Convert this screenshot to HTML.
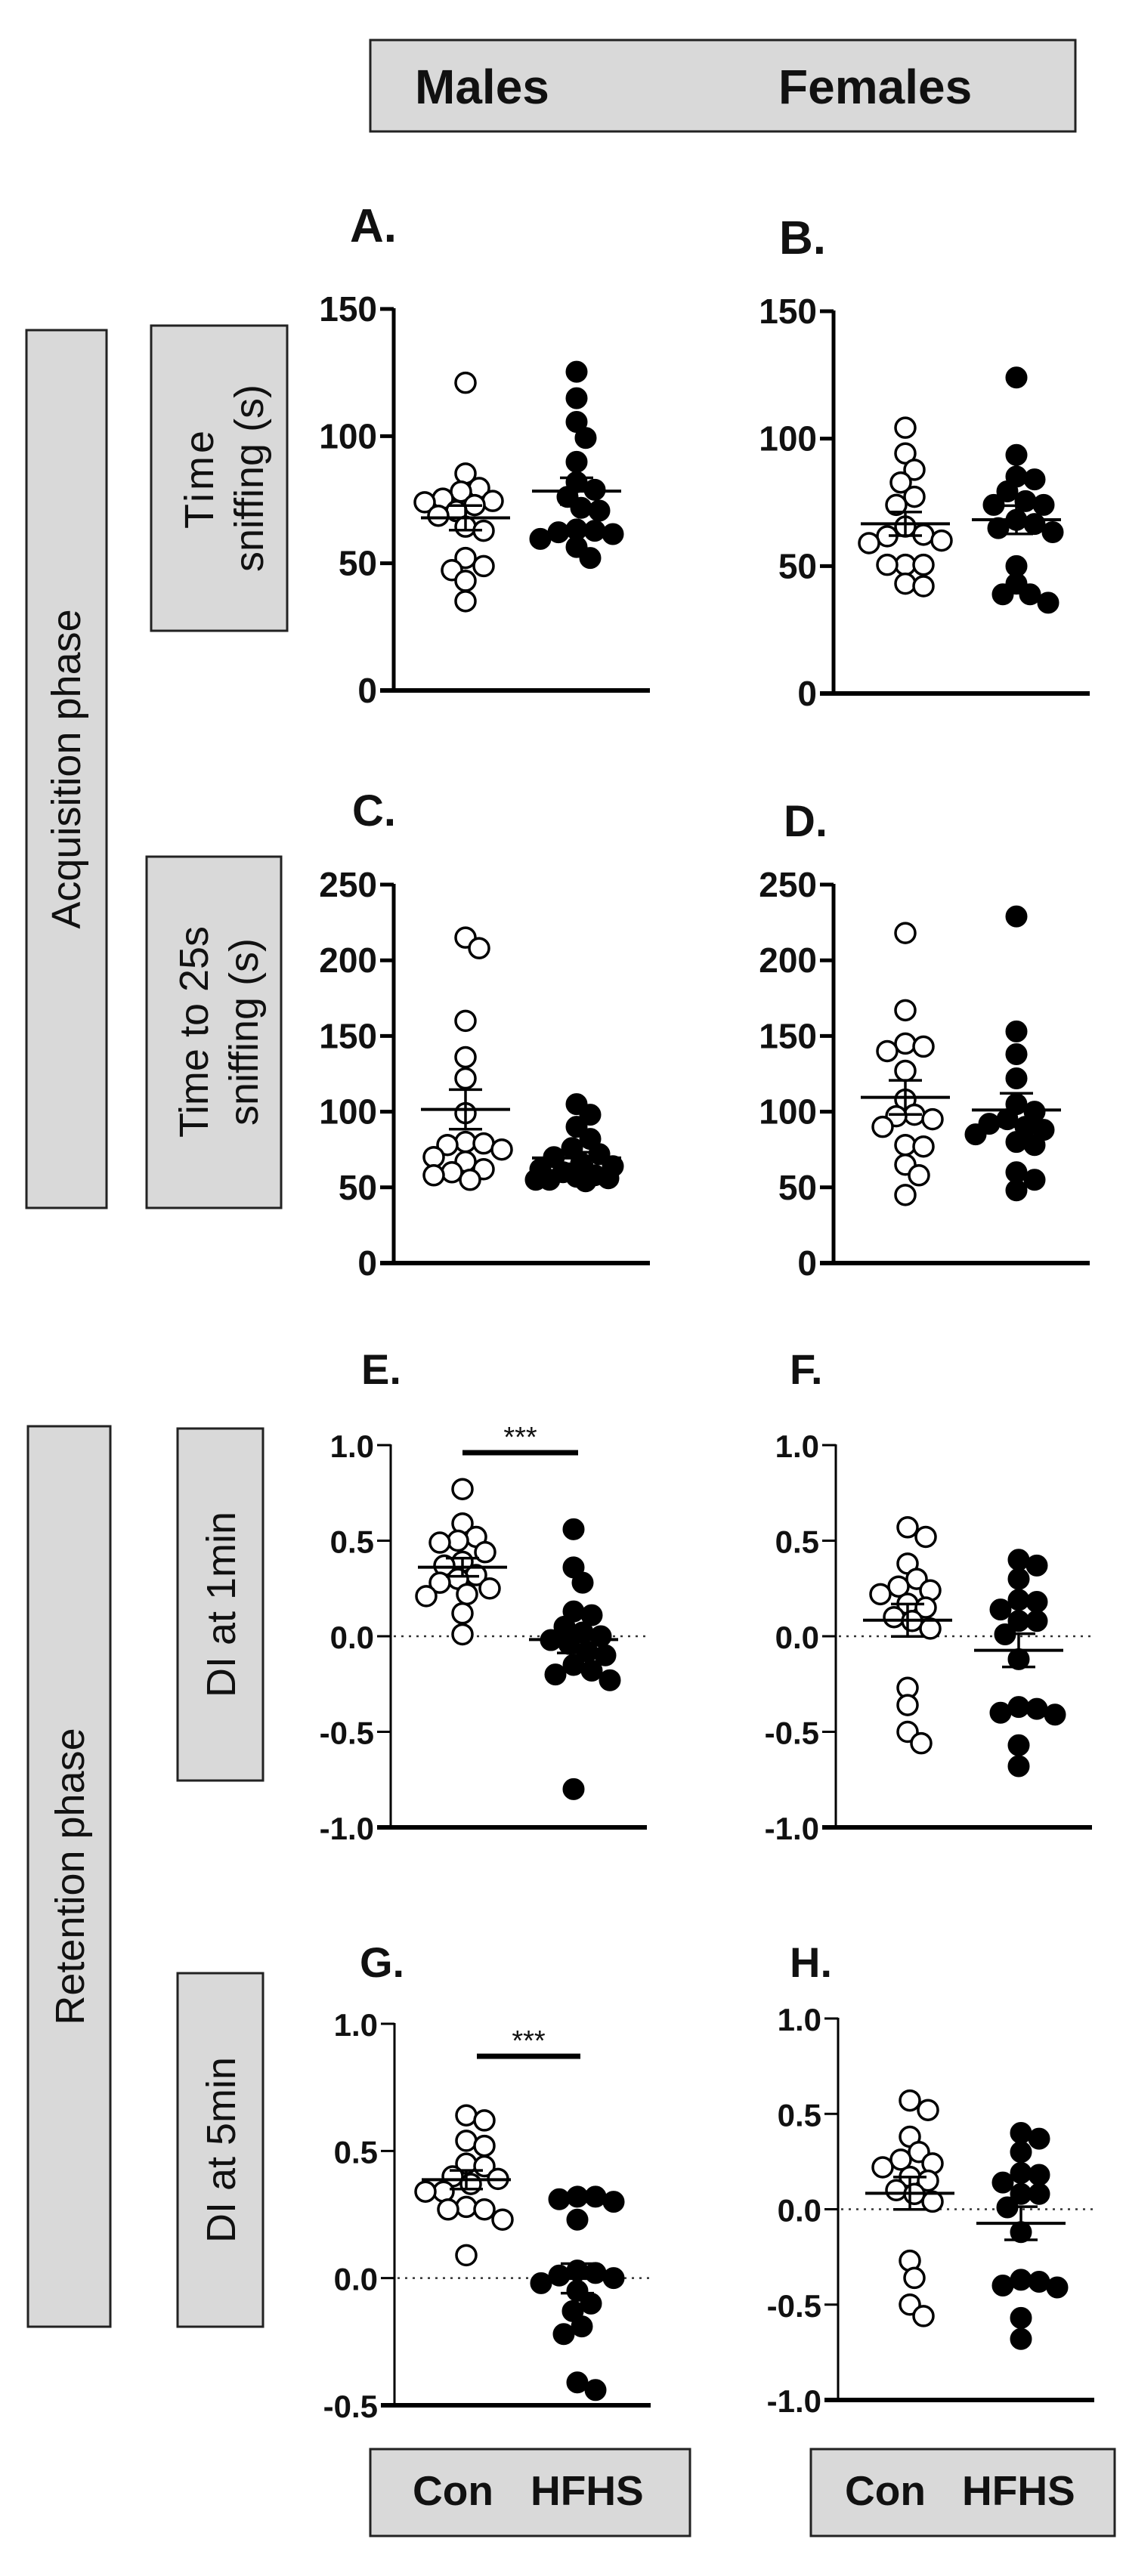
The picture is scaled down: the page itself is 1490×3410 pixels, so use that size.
<!DOCTYPE html>
<html><head><meta charset="utf-8"><style>
html,body{margin:0;padding:0;background:#fff;}
svg{display:block;}
.box{fill:#d9d9d9;stroke:#222;stroke-width:3;}
.tick{font-family:"Liberation Sans Narrow","Liberation Sans",sans-serif;font-weight:bold;fill:#111;}
.lbl{font-family:"Liberation Sans",sans-serif;fill:#111;}
</style></head><body>
<svg id="fig" width="1490" height="3410" viewBox="0 0 1490 3410" xmlns="http://www.w3.org/2000/svg">
<rect x="490" y="53" width="933" height="121" class="box"/>
<text x="549" y="137" class="tick" font-size="64">Males</text>
<text x="1030" y="137" class="tick" font-size="64">Females</text>

<rect x="35" y="437" width="106" height="1162" class="box"/>
<text class="lbl" font-size="54" transform="translate(106,1018) rotate(-90)" text-anchor="middle">Acquisition phase</text>
<rect x="200" y="431" width="180" height="404" class="box"/>
<text class="lbl" font-size="54" transform="translate(282,633) rotate(-90)" text-anchor="middle" letter-spacing="4">Time</text>
<text class="lbl" font-size="54" transform="translate(348,633) rotate(-90)" text-anchor="middle">sniffing (s)</text>
<rect x="194" y="1134" width="178" height="465" class="box"/>
<text class="lbl" font-size="54" transform="translate(275,1366) rotate(-90)" text-anchor="middle">Time to 25s</text>
<text class="lbl" font-size="54" transform="translate(341,1366) rotate(-90)" text-anchor="middle">sniffing (s)</text>

<rect x="37" y="1888" width="109" height="1192" class="box"/>
<text class="lbl" font-size="54" transform="translate(111,2484) rotate(-90)" text-anchor="middle">Retention phase</text>
<rect x="235" y="1891" width="113" height="466" class="box"/>
<text class="lbl" font-size="54" transform="translate(311,2124) rotate(-90)" text-anchor="middle">DI at 1min</text>
<rect x="235" y="2612" width="113" height="468" class="box"/>
<text class="lbl" font-size="54" transform="translate(311,2846) rotate(-90)" text-anchor="middle">DI at 5min</text>

<rect x="490" y="3242" width="423" height="115" class="box"/>
<text x="546" y="3316" class="lbl" font-weight="bold" font-size="55">Con</text>
<text x="702" y="3316" class="lbl" font-weight="bold" font-size="55">HFHS</text>
<rect x="1073" y="3242" width="402" height="115" class="box"/>
<text x="1118" y="3316" class="lbl" font-weight="bold" font-size="55">Con</text>
<text x="1273" y="3316" class="lbl" font-weight="bold" font-size="55">HFHS</text>
<g id="plots"></g>
</svg>
<script>
const panelNames = ["A","B","C","D","E","F","G","H"];
const conA = [121,85.3,79.6,78.2,75.4,74.5,74,72.9,70.5,68.7,64.4,62.8,52.1,48.9,47.3,43.1,35.1];
const hfhsA = [125.3,114.9,105.6,99.3,89.9,81.9,78.9,76.1,71.8,70.7,63.3,62.8,62.2,61.5,59.6,56.4,52.1];
const conB = [104.3,94.2,87.8,82.8,77.2,74,65.5,62.3,61.7,60,59,50.5,50.5,50.5,43.1,42.1];
const hfhsB = [124,93.6,85.1,84,79.3,75.5,74,74,68.1,66.5,64.9,63.3,50,43.1,38.9,38.9,35.6];
const conC = [215,208,160,136,122,99,80,79,78,75,70,67,62,60,58,55];
const hfhsC = [105,98,90,82,76,72,70,66,64,62,60,58,57,56,55,55,54];
const conD = [218,167,145,143,140,127,108,98,97,95,90,78,77,65,58,45];
const hfhsD = [229,153,138,122,105,100,95,92,90,88,85,80,78,60,55,48];
const conE = [0.77,0.59,0.52,0.5,0.49,0.44,0.39,0.37,0.32,0.3,0.28,0.25,0.22,0.21,0.12,0.01];
const hfhsE = [0.56,0.36,0.28,0.13,0.11,0.05,0.02,0,-0.02,-0.04,-0.08,-0.1,-0.15,-0.18,-0.2,-0.23,-0.8];
const conF = [0.57,0.52,0.38,0.3,0.26,0.24,0.22,0.17,0.15,0.1,0.08,0.04,-0.27,-0.36,-0.5,-0.56];
const hfhsF = [0.4,0.37,0.3,0.19,0.18,0.14,0.08,0.08,0.01,-0.12,-0.37,-0.4,-0.41,-0.38,-0.57,-0.68];
const conG = [0.64,0.62,0.54,0.52,0.45,0.44,0.4,0.39,0.37,0.34,0.34,0.28,0.27,0.27,0.23,0.09];
const hfhsG = [0.32,0.32,0.31,0.3,0.23,0.03,0.02,0.01,0,-0.02,-0.05,-0.1,-0.13,-0.19,-0.22,-0.41,-0.44];
const conH = [0.57,0.52,0.38,0.3,0.26,0.24,0.22,0.17,0.15,0.1,0.08,0.04,-0.27,-0.36,-0.5,-0.56];
const hfhsH = [0.4,0.37,0.3,0.19,0.18,0.14,0.08,0.08,0.01,-0.12,-0.37,-0.4,-0.41,-0.38,-0.57,-0.68];
const ticksAB = [0,50,100,150];
const ticksCD = [0,50,100,150,200,250];
const ticksEF = [-1.0,-0.5,0.0,0.5,1.0];
const ticksG = [-0.5,0.0,0.5,1.0];
const tickLabelsAB = ["0","50","100","150"];
const tickLabelsCD = ["0","50","100","150","200","250"];
const tickLabelsEF = ["-1.0","-0.5","0.0","0.5","1.0"];
const tickLabelsG = ["-0.5","0.0","0.5","1.0"];
const sigLabels = ["***","***"];

const NS = "http://www.w3.org/2000/svg";
const root = document.getElementById("plots");
function mk(tag, attrs, parent){
  const e = document.createElementNS(NS, tag);
  for (const k in attrs) e.setAttribute(k, attrs[k]);
  (parent||root).appendChild(e);
  return e;
}
const layout = [
  {ax:521,top:409,bot:914,min:0,max:150,ticks:ticksAB,tl:tickLabelsAB,con:conA,hf:hfhsA,lx:463,ly:320,fs:62,narrow:true,zero:false,thin:false},
  {ax:1103,top:412,bot:918,min:0,max:150,ticks:ticksAB,tl:tickLabelsAB,con:conB,hf:hfhsB,lx:1031,ly:336,fs:62,narrow:true,zero:false,thin:false},
  {ax:521,top:1171,bot:1672,min:0,max:250,ticks:ticksCD,tl:tickLabelsCD,con:conC,hf:hfhsC,lx:466,ly:1093,fs:58,narrow:true,zero:false,thin:false},
  {ax:1103,top:1171,bot:1672,min:0,max:250,ticks:ticksCD,tl:tickLabelsCD,con:conD,hf:hfhsD,lx:1037,ly:1107,fs:58,narrow:true,zero:false,thin:false},
  {ax:517,top:1913,bot:2419,min:-1,max:1,ticks:ticksEF,tl:tickLabelsEF,con:conE,hf:hfhsE,lx:478,ly:1832,fs:56,narrow:false,zero:true,thin:true,sig:{x1:612,x2:765,y:1923,s:0}},
  {ax:1106,top:1913,bot:2419,min:-1,max:1,ticks:ticksEF,tl:tickLabelsEF,con:conF,hf:hfhsF,lx:1045,ly:1832,fs:56,narrow:false,zero:true,thin:true},
  {ax:522,top:2679,bot:3184,min:-0.5,max:1,ticks:ticksG,tl:tickLabelsG,con:conG,hf:hfhsG,lx:476,ly:2617,fs:56,narrow:false,zero:true,thin:true,sig:{x1:631,x2:768,y:2722,s:1}},
  {ax:1109,top:2672,bot:3177,min:-1,max:1,ticks:ticksEF,tl:tickLabelsEF,con:conH,hf:hfhsH,lx:1045,ly:2617,fs:56,narrow:false,zero:true,thin:true}
];
const R = 13;
const MAXOFF = 54;
function swarm(vals, cx, yf){
  const placed = [];
  const sorted = vals.slice().sort((a,b)=>b-a);
  for (const v of sorted){
    const y = yf(v);
    let best = cx, bestD = -1, found = false;
    for (let k=0;k<=2*Math.floor(MAXOFF/6);k++){
      const off = (k===0?0:(k%2?1:-1)*Math.ceil(k/2)*6);
      const tx = cx + off;
      const d = placed.length ? Math.min(...placed.map(p=>Math.hypot(p.x-tx,p.y-y))) : 999;
      if (d >= 1.75*R){ best = tx; found = true; break; }
      if (d > bestD){ bestD = d; best = tx; }
    }
    placed.push({x:best,y,v});
  }
  return placed;
}
function stats(v){
  const m = v.reduce((a,b)=>a+b,0)/v.length;
  const sd = Math.sqrt(v.reduce((a,b)=>a+(b-m)*(b-m),0)/(v.length-1));
  return {m, sem: sd/Math.sqrt(v.length)};
}
layout.forEach((p,i)=>{
  const g = mk("g",{});
  
  
  const y = v => p.bot - (v - p.min)/(p.max - p.min)*(p.bot - p.top);
  const lbl = mk("text",{x:p.lx,y:p.ly,"font-size":p.fs,"font-weight":"bold","font-family":"Liberation Sans, sans-serif",fill:"#111"},g);
  lbl.textContent = panelNames[i] + ".";
  
  
  const yw = p.thin ? 3 : 5;
  const ya = mk("line",{x1:p.ax,y1:p.top-1,x2:p.ax,y2:p.bot,stroke:"#000","stroke-width":yw},g);
  
  
  const xa = mk("line",{x1:p.ax-18,y1:p.bot,x2:p.ax+339,y2:p.bot,stroke:"#000","stroke-width":6},g);
  
  
  p.ticks.forEach((t,j)=>{
    const tk = mk("line",{x1:p.ax-18,y1:y(t),x2:p.ax,y2:y(t),stroke:"#000","stroke-width":p.thin?3:5},g);
    
    
    const tx = mk("text",{x:p.ax-22,y:y(t)+16,"text-anchor":"end","font-size":p.narrow?46:42,"class":p.narrow?"tick":"lbl","font-weight":"bold"},g);
    tx.textContent = p.tl[j];
    
    
  });
  if (p.zero){
    const z = mk("line",{x1:p.ax+4,y1:y(0),x2:p.ax+339,y2:y(0),stroke:"#333","stroke-width":2.5,"stroke-dasharray":"3 7"},g);
    
    
  }
  [[p.con,95,false,"con"],[p.hf,242,true,"hfhs"]].forEach(([vals,off,fill,nm])=>{
    const cx = p.ax + off;
    swarm(vals,cx,y).forEach(pt=>{
      const c = mk("circle",{cx:pt.x,cy:pt.y,r:fill?R+1:R,fill:fill?"#000":"#fff",stroke:"#000","stroke-width":fill?1:3.5},g);
      
      
    });
    const s = stats(vals);
    const ml = mk("line",{x1:cx-59,y1:y(s.m),x2:cx+59,y2:y(s.m),stroke:"#000","stroke-width":4},g);
    
    
    const eb = mk("path",{d:`M${cx},${y(s.m+s.sem)}V${y(s.m-s.sem)}M${cx-22},${y(s.m+s.sem)}H${cx+22}M${cx-22},${y(s.m-s.sem)}H${cx+22}`,stroke:"#000","stroke-width":3.5,fill:"none"},g);
    
    
  });
  if (p.sig){
    const sb = mk("line",{x1:p.sig.x1,y1:p.sig.y,x2:p.sig.x2,y2:p.sig.y,stroke:"#000","stroke-width":7},g);
    
    
    const st = mk("text",{x:(p.sig.x1+p.sig.x2)/2,y:p.sig.y-8,"text-anchor":"middle","font-size":38,"class":"lbl"},g);
    st.textContent = sigLabels[p.sig.s];
    
    
  }
});
</script>
</body></html>
